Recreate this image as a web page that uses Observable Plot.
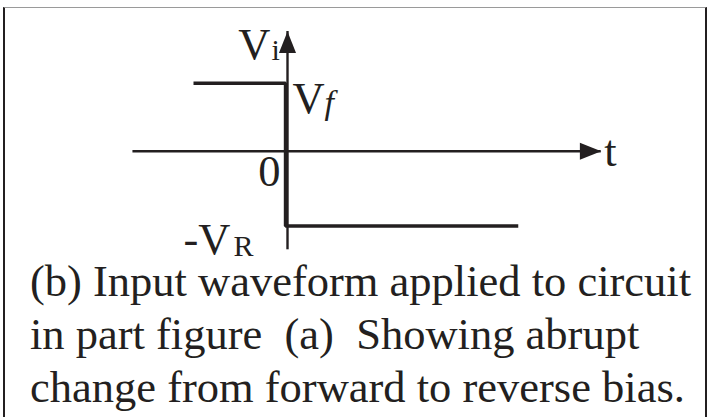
<!DOCTYPE html>
<html>
<head>
<meta charset="utf-8">
<script src="https://cdn.jsdelivr.net/npm/d3@7"></script>
<script src="https://cdn.jsdelivr.net/npm/@observablehq/plot@0.6"></script>
<style>
  html, body { margin: 0; padding: 0; background: #fff; }
  body { position: relative; width: 708px; height: 417px; overflow: hidden; }
  #frame {
    position: absolute; left: 3px; top: 7px; width: 704px; height: 420px;
    box-sizing: border-box;
    border-left: 2.5px solid #231f20;
    border-right: 2.5px solid #231f20;
    border-top: 1.6px solid #9a9a9a;
  }
  #chart { position: absolute; left: 0; top: 0; }
  #caption {
    position: absolute; left: 30px; top: 254.5px;
    font-family: "Liberation Serif", "Times New Roman", serif;
    font-size: 44.5px; line-height: 53px; color: #231f20;
    white-space: pre;
  }
</style>
</head>
<body>
<div id="frame"></div>
<div id="chart"></div>
<div id="caption"></div>
<script>
// Axis extents (t in arbitrary time units, v relative to the forward level)
const tAxis = [-1.68, 3.41];
const vAxis = [-1.45, 1.76];

// Input waveform: forward level Vf before t = 0, reverse level -VR after
const waveT = [-1.0, 0, 0, 2.53];
const waveV = [1, 1, -1.1, -1.1];

// Level values and their names
const levelValues = [1, -1.1];
const levelMain = ["V", "-V"];
const levelSub = ["f", "R"];

// Axis names
const axisNames = ["t", "V"];
const axisSub = ["i"];
const originLabel = ["0"];

const captionLines = [
  "(b) Input waveform applied to circuit",
  "in part figure  (a)  Showing abrupt",
  "change from forward to reverse bias."
];

const ink = "#231f20";
const serif = "Liberation Serif, Times New Roman, serif";

const wave = waveT.map((t, i) => ({t, v: waveV[i]}));

// Filled arrowhead with its tip at the symbol origin, body trailing downward
const arrowHead = {
  draw(context, size) {
    const r = Math.sqrt(size / Math.PI);
    const h = 2.25 * r, w = 0.9 * r;
    context.moveTo(0, 0);
    context.lineTo(-w, h);
    context.lineTo(w, h);
    context.closePath();
  }
};

const W = 708, H = 262;
const x0 = 287, k = 92;      // pixel of t = 0, pixels per t unit
const y0 = 150.7, m = 68;    // pixel of v = 0, pixels per v unit

const chart = Plot.plot({
  width: W,
  height: H,
  margin: 0,
  x: {domain: [-x0 / k, (W - x0) / k], axis: null},
  y: {domain: [(y0 - H) / m, y0 / m], axis: null},
  marks: [
    // axes
    Plot.ruleY([0], {x1: tAxis[0], x2: tAxis[1], stroke: ink, strokeWidth: 2.4}),
    Plot.ruleX([0], {y1: vAxis[0], y2: vAxis[1], stroke: ink, strokeWidth: 2.4}),
    Plot.dot([vAxis[1]], {x: () => 0, y: d => d, symbol: arrowHead, r: 9.5, fill: ink, stroke: "none"}),
    Plot.dot([tAxis[1]], {x: d => d, y: () => 0, symbol: arrowHead, r: 9.5, rotate: 90, fill: ink, stroke: "none"}),
    // waveform
    Plot.line(wave, {x: "t", y: "v", stroke: ink, strokeWidth: 3.4,
      strokeLinejoin: "miter", strokeLinecap: "butt", dx: -2}),
    // axis names
    Plot.text([vAxis[1]], {x: () => 0, y: d => d, text: () => axisNames[1],
      textAnchor: "end", lineAnchor: "bottom", dx: -17, dy: 27,
      fontFamily: serif, fontSize: 44.5, fill: ink}),
    Plot.text([vAxis[1]], {x: () => 0, y: d => d, text: () => axisSub[0],
      textAnchor: "start", lineAnchor: "bottom", dx: -16, dy: 28,
      fontFamily: serif, fontSize: 30, fill: ink}),
    Plot.text([tAxis[1]], {x: d => d, y: () => 0, text: () => axisNames[0],
      textAnchor: "start", lineAnchor: "bottom", dx: 3, dy: 14.5,
      fontFamily: serif, fontSize: 44.5, fill: ink}),
    Plot.text([0], {x: d => d, y: d => d, text: () => originLabel[0],
      textAnchor: "end", lineAnchor: "bottom", dx: -7, dy: 34.5,
      fontFamily: serif, fontSize: 44.5, fill: ink}),
    // level names
    Plot.text([0], {x: () => 0, y: () => levelValues[0], text: () => levelMain[0],
      textAnchor: "start", lineAnchor: "bottom", dx: 5, dy: 29.5,
      fontFamily: serif, fontSize: 44.5, fill: ink}),
    Plot.text([0], {x: () => 0, y: () => levelValues[0], text: () => levelSub[0],
      textAnchor: "start", lineAnchor: "bottom", dx: 37, dy: 31,
      fontFamily: serif, fontSize: 34, fontStyle: "italic", fill: ink}),
    Plot.text([0], {x: () => 0, y: () => levelValues[1], text: () => levelMain[1],
      textAnchor: "end", lineAnchor: "bottom", dx: -57, dy: 27.5,
      fontFamily: serif, fontSize: 44.5, fill: ink}),
    Plot.text([0], {x: () => 0, y: () => levelValues[1], text: () => levelSub[1],
      textAnchor: "start", lineAnchor: "bottom", dx: -54, dy: 29.5,
      fontFamily: serif, fontSize: 30, fill: ink})
  ]
});

document.getElementById("chart").append(chart);
document.getElementById("caption").textContent = captionLines.join("\n");
</script>
</body>
</html>
